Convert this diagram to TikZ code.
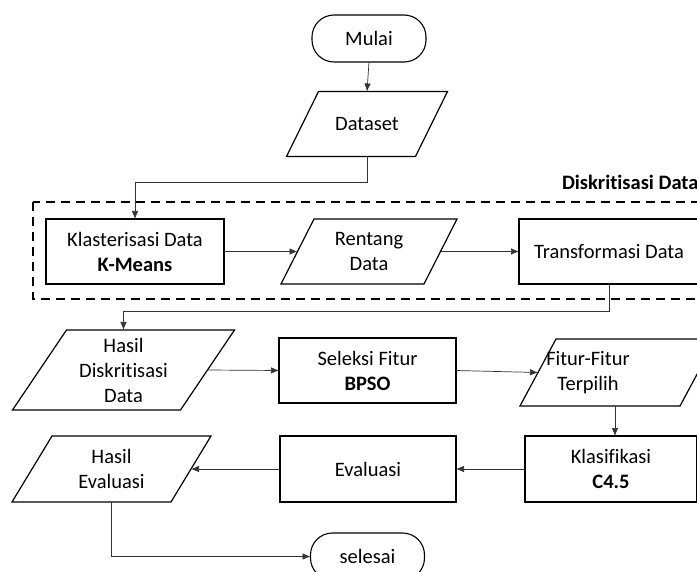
\documentclass[tikz,border=0pt]{standalone}
\usepackage{fontspec}
\setmainfont{Carlito}[Ligatures={NoCommon}]
\usetikzlibrary{arrows.meta,calc}
\begin{document}
\begin{tikzpicture}[x=1pt,y=-1pt,
  txt/.style={font=\fontsize{20.5}{25}\selectfont, align=center, inner sep=0pt, outer sep=0pt},
  procbox/.style={txt, draw, line width=1.3pt, minimum height=65pt},
  term/.style={txt, draw, line width=1.1pt, rounded corners=22pt, minimum width=114pt, minimum height=47pt},
  iobody/.style={txt, minimum height=#1},
  shp/.style={line width=1.2pt},
  conn/.style={line width=0.7pt, draw=black!80, -{Latex[length=8pt,width=6.5pt]}}
]
\clip (0,0) rectangle (697,572);
\fill[white] (0,0) rectangle (697,572);

% dashed group
\draw[line width=2pt, dash pattern=on 9pt off 6pt] (33,202) rectangle (712,299);
\node[txt, anchor=west, font=\fontsize{20.5}{25}\selectfont\bfseries] (grp) at (562,182) {Diskritisasi Data};

% terminals
\node[term] (mulai) at (369,38.5) {Mulai};
\node[term] (selesai) at (367.5,556.5) {selesai};

% parallelogram bodies
\node[iobody=65pt, minimum width=129pt] (dataset) at (367,124) {Dataset};
\draw[shp] ([xshift=16pt]dataset.north west) -- ([xshift=16pt]dataset.north east) -- ([xshift=-16pt]dataset.south east) -- ([xshift=-16pt]dataset.south west) -- cycle;

\node[iobody=65pt, minimum width=143pt] (rentang) at (369,251.5) {Rentang\\Data};
\draw[shp] ([xshift=16.5pt]rentang.north west) -- ([xshift=16.5pt]rentang.north east) -- ([xshift=-16.5pt]rentang.south east) -- ([xshift=-16.5pt]rentang.south west) -- cycle;

\node[iobody=80pt, minimum width=168pt] (hasild) at (123.5,370) {Hasil\\Diskritisasi\\Data};
\draw[shp] ([xshift=27pt]hasild.north west) -- ([xshift=27pt]hasild.north east) -- ([xshift=-27pt]hasild.south east) -- ([xshift=-27pt]hasild.south west) -- cycle;

\node[iobody=67pt, minimum width=160pt] (fitur) at (618,372.5) {};
\node[txt] (fiturtxt) at (588,372.5) {Fitur-Fitur\\Terpilih};
\draw[shp] ([xshift=18pt]fitur.north west) -- ([xshift=18pt]fitur.north east) -- ([xshift=-18pt]fitur.south east) -- ([xshift=-18pt]fitur.south west) -- cycle;

\node[iobody=66pt, minimum width=159pt] (hasile) at (111.5,469) {Hasil\\Evaluasi};
\draw[shp] ([xshift=20pt]hasile.north west) -- ([xshift=20pt]hasile.north east) -- ([xshift=-20pt]hasile.south east) -- ([xshift=-20pt]hasile.south west) -- cycle;

% process boxes
\node[procbox, line width=1.7pt, minimum width=178pt] (klast) at (135,251.5) {Klasterisasi Data\\\textbf{K-Means}};
\node[procbox, minimum width=180pt] (transf) at (609,251.5) {Transformasi Data};
\node[procbox, minimum width=177pt] (seleksi) at (367.5,370.5) {Seleksi Fitur\\\textbf{BPSO}};
\node[procbox, minimum width=172pt, minimum height=66pt] (klas) at (611,469) {Klasifikasi\\\textbf{C4.5}};
\node[procbox, minimum width=176pt, minimum height=66pt] (eval) at (368,469) {Evaluasi};

% connectors
\coordinate (j1) at (0,182);
\coordinate (j2) at (0,311);
\draw[conn] (mulai.south) -- (dataset.north);
\draw[conn] (dataset.south) -- (dataset.south |- j1) -| (klast.north);
\draw[conn] (klast.east) -- (rentang.west);
\draw[conn] (rentang.east) -- (transf.west);
\draw[conn] (transf.south) -- (transf.south |- j2) -| (hasild.north);
\draw[conn] (hasild.east) -- (seleksi.west);
\draw[conn] (seleksi.east) -- (fitur.west);
\draw[conn] ([xshift=-3pt]fitur.south) -- ([xshift=-3pt]fitur.south |- klas.north);
\draw[conn] (klas.west) -- (eval.east);
\draw[conn] (eval.west) -- (hasile.east);
\draw[conn] (hasile.south) |- (selesai.west);
\end{tikzpicture}
\end{document}
